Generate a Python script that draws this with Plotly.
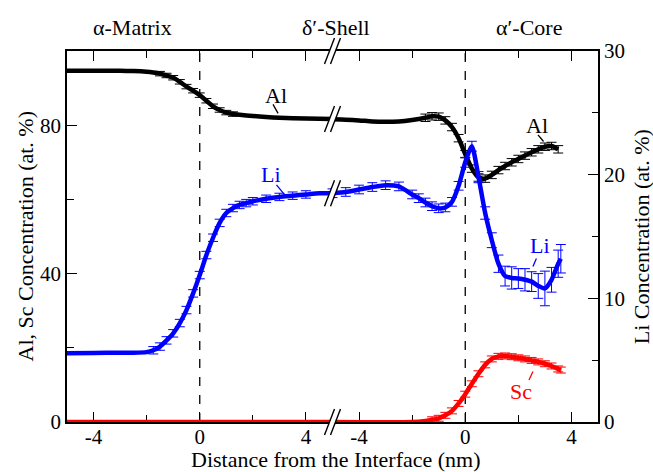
import numpy as np
import plotly.graph_objects as go

# ---------------- data (x in nm from each interface) ----------------
# Segment 1: alpha-Matrix / delta'-Shell interface
al1_x = [-5, -4, -3, -2.5, -2, -1.75, -1.5, -1.25, -1, -0.75, -0.5, -0.25, 0, 0.25, 0.5, 0.75, 1, 1.25, 1.5, 2, 2.5, 3, 4, 5]
al1_y = [94.7, 94.7, 94.7, 94.6, 94.4, 94.2, 93.9, 93.4, 92.8, 91.7, 90.4, 89.3, 88.1, 86.6, 85.1, 84.1, 83.4, 83.0, 82.8, 82.5, 82.2, 82.0, 81.8, 81.7]
al1_e = [0, 0, 0, 0, 0, 0, 0.6, 0.6, 0.6, 0.6, 0.6, 0.6, 0.6, 0.6, 0.6, 0.6, 0.6, 0.6, 0, 0, 0, 0, 0, 0]

li1_x = [-5, -4, -3, -2.5, -2, -1.75, -1.5, -1.25, -1, -0.75, -0.5, -0.25, 0, 0.25, 0.5, 0.75, 1, 1.25, 1.5, 1.75, 2, 2.5, 3, 3.5, 4, 4.5, 5]
li1_y = [5.55, 5.58, 5.6, 5.6, 5.65, 5.8, 6.1, 6.6, 7.17, 8.0, 9.05, 10.4, 11.88, 13.5, 14.9, 16.1, 16.9, 17.3, 17.55, 17.7, 17.85, 18.05, 18.2, 18.3, 18.4, 18.5, 18.5]
li1_e = [0, 0, 0, 0, 0, 0.3, 0.3, 0.3, 0.3, 0.3, 0.3, 0.3, 0.3, 0.3, 0.3, 0.3, 0.3, 0.3, 0.3, 0.3, 0.3, 0.3, 0.3, 0.3, 0.3, 0, 0]

sc1_x = [-5, 5]
sc1_y = [0, 0]

# Segment 2: delta'-Shell / alpha'-Core interface
al2_x = [-5, -4.5, -4, -3.5, -3, -2.5, -2, -1.5, -1.25, -1, -0.75, -0.5, -0.25, 0, 0.25, 0.5, 0.75, 1, 1.25, 1.5, 1.75, 2, 2.25, 2.5, 2.75, 3, 3.25, 3.5]
al2_y = [81.6, 81.5, 81.3, 81.0, 80.9, 81.0, 81.4, 82.0, 82.4, 82.3, 81.3, 79.5, 76.5, 72.2, 68.3, 65.9, 65.6, 66.6, 67.9, 69.0, 70.0, 70.9, 71.8, 72.7, 73.5, 74.2, 74.4, 73.5]
al2_e = [0, 0, 0, 0, 0, 0, 0, 1.0, 1.0, 1.0, 1.0, 1.0, 1.0, 1.0, 1.0, 1.0, 1.0, 1.0, 1.0, 1.0, 1.0, 1.0, 1.0, 1.0, 1.0, 1.0, 1.0, 1.0]

li2_x = [-5, -4.5, -4, -3.5, -3, -2.5, -2, -1.75, -1.5, -1.25, -1, -0.75, -0.5, -0.25, 0, 0.25, 0.5, 0.75, 1, 1.25, 1.5, 1.75, 2, 2.25, 2.5, 2.75, 3, 3.25, 3.5, 3.6]
li2_y = [18.5, 18.6, 18.8, 19.0, 19.15, 19.05, 18.4, 18.1, 17.75, 17.45, 17.28, 17.35, 17.8, 19.1, 21.0, 22.3, 19.8, 16.9, 14.7, 12.8, 11.8, 11.65, 11.6, 11.5, 11.35, 11.0, 10.8, 11.5, 12.8, 13.2]
li2_e = [0.35, 0.35, 0.35, 0.35, 0.35, 0.35, 0.35, 0.35, 0.35, 0.35, 0.35, 0.35, 0.35, 0.35, 0.4, 0.4, 0.45, 0.5, 0.6, 0.7, 0.8, 0.9, 0.8, 0.9, 0.8, 1.0, 1.4, 1.0, 1.1, 1.15]

sc2_x = [-5, -2, -1.5, -1.25, -1, -0.75, -0.5, -0.25, 0, 0.25, 0.5, 0.75, 1, 1.25, 1.5, 1.75, 2, 2.25, 2.5, 2.75, 3, 3.25, 3.5, 3.6]
sc2_y = [0, 0, 0.3, 0.6, 1.0, 1.8, 3.0, 5.0, 7.5, 10.3, 13.0, 15.4, 17.0, 17.7, 17.8, 17.6, 17.3, 17.0, 16.6, 16.2, 15.7, 15.1, 14.3, 14.0]
sc2_e = [0, 0, 0, 0.8, 0.8, 0.8, 0.8, 0.8, 0.8, 0.8, 0.8, 0.8, 0.8, 0.8, 0.8, 0.8, 0.8, 0.8, 0.8, 0.8, 0.8, 0.8, 0.8, 0.8]

tick_major = [-4, 0, 4]
tick_minor = [-2, 2]
seg_offsets = [5, 15]   # position of each segment's zero on the combined axis
break_pos = 10

BLACK, BLUE, RED = "#000000", "#0000ff", "#ff0000"
FONT = "Liberation Serif"

W, H = 653, 472
ML, MT, RIGHT, BOTTOM = 67, 51, 598, 422
MR, MB = W - RIGHT, H - BOTTOM
PW, PH = W - ML - MR, H - MT - MB
XR = [0, 20]
YR = [0, 100]
Y2R = [0, 30]
du = (XR[1] - XR[0]) / PW       # x units per pixel
dy = (YR[1] - YR[0]) / PH       # left-y units per pixel
dp = 1.0 / PH                   # paper units per pixel

fig = go.Figure()


def add_series(x, y, e, off, color, yaxis):
    xs = np.asarray(x, float) + off
    ys = np.asarray(y, float)
    fig.add_trace(go.Scatter(x=xs, y=ys, mode="lines", yaxis=yaxis,
                             line=dict(color=color, width=4.5, shape="spline", smoothing=0.6),
                             showlegend=False, hoverinfo="skip"))
    if e is not None:
        ea = np.asarray(e, float)
        m = ea > 0
        fig.add_trace(go.Scatter(x=xs[m], y=ys[m], mode="markers", yaxis=yaxis,
                                 marker=dict(size=1, color=color, opacity=0),
                                 error_y=dict(type="data", array=ea[m], color=color,
                                              thickness=1, width=5),
                                 showlegend=False, hoverinfo="skip"))


add_series(sc1_x, sc1_y, None, seg_offsets[0], RED, "y")
add_series(sc2_x, sc2_y, sc2_e, seg_offsets[1], RED, "y")
add_series(al1_x, al1_y, al1_e, seg_offsets[0], BLACK, "y")
add_series(al2_x, al2_y, al2_e, seg_offsets[1], BLACK, "y")
add_series(li1_x, li1_y, li1_e, seg_offsets[0], BLUE, "y2")
add_series(li2_x, li2_y, li2_e, seg_offsets[1], BLUE, "y2")

shapes = []
# dashed interface lines
for off in seg_offsets:
    shapes.append(dict(type="line", xref="x", yref="paper", x0=off, x1=off, y0=0, y1=1,
                       line=dict(color=BLACK, width=1.3, dash="dash"), layer="below"))


def add_break(y0, yref, ypx):
    hw, hh, sep = 5, 13, 3
    xa = break_pos
    p = ("M{},{} L{},{} L{},{} L{},{} Z".format(
        xa + (-sep - hw) * du, y0 - hh * ypx, xa + (-sep + hw) * du, y0 + hh * ypx,
        xa + (sep + hw) * du, y0 + hh * ypx, xa + (sep - hw) * du, y0 - hh * ypx))
    shapes.append(dict(type="path", xref="x", yref=yref, path=p, fillcolor="white",
                       line=dict(width=0), layer="above"))
    for s in (-sep, sep):
        shapes.append(dict(type="line", xref="x", yref=yref,
                           x0=xa + (s - hw) * du, y0=y0 - hh * ypx,
                           x1=xa + (s + hw) * du, y1=y0 + hh * ypx,
                           line=dict(color=BLACK, width=1.4), layer="above"))


add_break(1, "paper", dp)
add_break(0, "paper", dp)
add_break(al1_y[-1], "y", dy)
add_break(li1_y[-1] * YR[1] / Y2R[1], "y", dy)

ann = []
# region labels
for txt, xpos in [("α-Matrix", 2.47), ("δ\u2032-Shell", 10.15), ("α\u2032-Core", 17.39)]:
    ann.append(dict(text=txt, x=xpos, y=1 + (MT - 28) / PH, xref="x", yref="paper", showarrow=False,
                    font=dict(family=FONT, size=22, color=BLACK), xanchor="center", yanchor="middle"))
# curve labels with leader lines
labels = [("Al", 7.86, 88.1, BLACK, (7.76, 85.6, 7.95, 83.2)),
          ("Li", 7.70, 66.6, BLUE, (7.89, 63.9, 8.2, 61.2)),
          ("Al", 17.71, 80.0, BLACK, (17.74, 77.4, 17.95, 75.6)),
          ("Li", 17.80, 47.7, BLUE, (17.68, 44.1, 17.55, 41.9)),
          ("Sc", 17.09, 8.1, RED, (17.55, 13.6, 17.4, 11.3))]
for txt, lx, ly, col, seg in labels:
    ann.append(dict(text=txt, x=lx, y=ly, xref="x", yref="y", showarrow=False,
                    font=dict(family=FONT, size=22, color=col), xanchor="center", yanchor="middle"))
    shapes.append(dict(type="line", xref="x", yref="y", x0=seg[0], y0=seg[1], x1=seg[2], y1=seg[3],
                       line=dict(color=col, width=1.3)))
# axis titles
ann.append(dict(text="Al, Sc Concentration (at. %)", x=(25 - ML) / PW, y=0.5, xref="paper", yref="paper",
                xanchor="center", yanchor="middle",
                textangle=-90, showarrow=False, font=dict(family=FONT, size=22, color=BLACK)))
ann.append(dict(text="Li Concentration (at. %)", x=(641.7 - ML) / PW, y=0.5, xref="paper", yref="paper",
                xanchor="center", yanchor="middle",
                textangle=-90, showarrow=False, font=dict(family=FONT, size=22, color=BLACK)))
ann.append(dict(text="Distance from the Interface (nm)", x=(335.8 - ML) / PW,
                y=-(459 - BOTTOM) / PH, xanchor="center", yanchor="middle",
                xref="paper", yref="paper", showarrow=False, font=dict(family=FONT, size=22, color=BLACK)))

xt_vals = [t + o for o in seg_offsets for t in tick_major]
xt_text = [str(t) for o in seg_offsets for t in tick_major]
xm_vals = [t + o for o in seg_offsets for t in tick_minor]

fig.update_layout(
    width=W, height=H, margin=dict(l=ML, r=MR, t=MT, b=MB, autoexpand=False),
    paper_bgcolor="white", plot_bgcolor="white",
    font=dict(family=FONT, size=21, color=BLACK),
    shapes=shapes, annotations=ann, showlegend=False,
    xaxis=dict(range=XR, showgrid=False, zeroline=False, showline=True, linecolor=BLACK, linewidth=1.5,
               mirror="ticks", ticks="inside", ticklen=10, tickwidth=1.3, tickcolor=BLACK, automargin=False,
               tickmode="array", tickvals=xt_vals, ticktext=xt_text, layer="below traces",
               ticklabelstandoff=-5,
               minor=dict(tickmode="array", tickvals=xm_vals, ticks="inside", ticklen=7,
                          tickwidth=1.3, tickcolor=BLACK)),
    yaxis=dict(range=YR, showgrid=False, zeroline=False, showline=True, linecolor=BLACK, linewidth=1.5,
               ticks="inside", ticklen=10, tickwidth=1.3, tickcolor=BLACK, automargin=False,
               tickmode="array", tickvals=[0, 40, 80], layer="below traces",
               minor=dict(tickmode="array", tickvals=[20, 60], ticks="inside", ticklen=7,
                          tickwidth=1.3, tickcolor=BLACK)),
    yaxis2=dict(range=Y2R, overlaying="y", side="right", showgrid=False, zeroline=False, showline=True,
                linecolor=BLACK, linewidth=1.5, ticks="inside", ticklen=10, tickwidth=1.3, tickcolor=BLACK,
                automargin=False, tickmode="array", tickvals=[0, 10, 20, 30], layer="below traces",
                minor=dict(tickmode="array", tickvals=[5, 15, 25], ticks="inside", ticklen=6,
                           tickwidth=1.3, tickcolor=BLACK)),
)

# the page's default 8px body margin would shift and crop the figure
fig.write_html("out.html", config={"displayModeBar": False},
               post_script="document.body.style.margin='0px';")
